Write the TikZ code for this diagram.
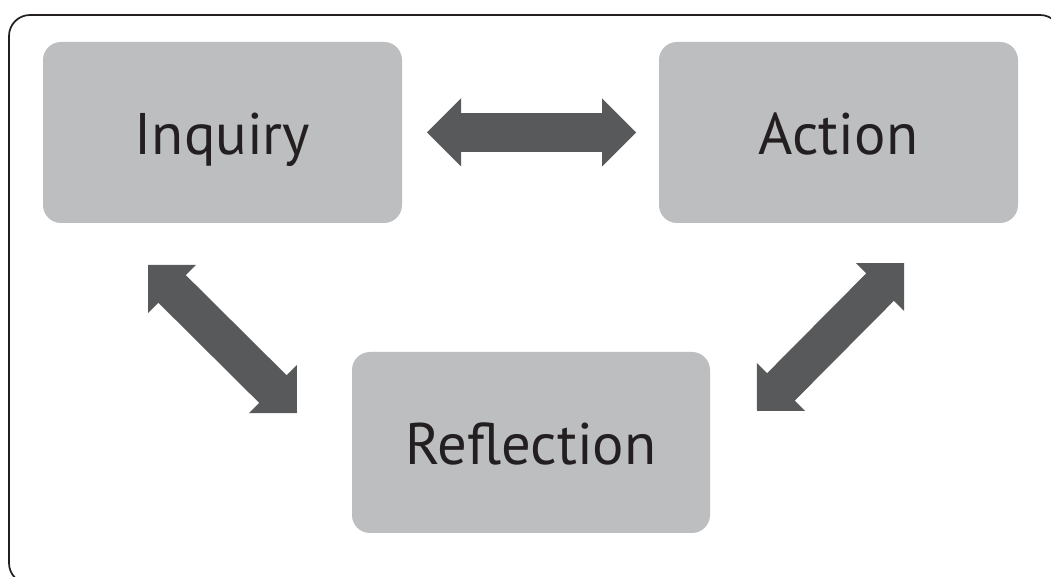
\documentclass[tikz,border=0pt]{standalone}
\usepackage{fontspec}
\setmainfont{PT Sans}
\usetikzlibrary{calc}
\definecolor{boxgray}{HTML}{BCBEC0}
\definecolor{arrowgray}{HTML}{58595B}
\definecolor{ink}{HTML}{231F20}
% fat double arrow between two named coordinates
\newcommand\fatarrow[2]{%
  \fill[arrowgray] (#1)
    -- ($(#1)!25.5pt!(#2)!25.5pt!90:(#2)$)
    -- ($(#1)!25.5pt!(#2)!14.6pt!90:(#2)$)
    -- ($(#2)!25.5pt!(#1)!14.6pt!-90:(#1)$)
    -- ($(#2)!25.5pt!(#1)!25.5pt!-90:(#1)$)
    -- (#2)
    -- ($(#2)!25.5pt!(#1)!25.5pt!90:(#1)$)
    -- ($(#2)!25.5pt!(#1)!14.6pt!90:(#1)$)
    -- ($(#1)!25.5pt!(#2)!14.6pt!-90:(#2)$)
    -- ($(#1)!25.5pt!(#2)!25.5pt!-90:(#2)$)
    -- cycle;}
\tikzset{
  box/.style={fill=boxgray, draw=none, rounded corners=13.5pt,
    minimum height=135.75pt, inner sep=0pt, text=ink,
    font=\fontsize{44}{50}\selectfont, text height=33.75pt, text depth=0pt},
  frame/.style={draw=ink, line width=1.3pt, rounded corners=15.75pt}
}
\begin{document}
\begin{tikzpicture}[x=0.75pt, y=-0.75pt]
  \useasboundingbox (0,0) rectangle (1051,577);
  \clip (0,0) rectangle (1051,577);
  \fill[white] (0,0) rectangle (1051,577);
  \draw[frame] (9,15) rectangle (1061,584);
  \node[box, minimum width=269.25pt] (inq) at (222.5,132.5) {Inquiry};
  \node[box, minimum width=269.25pt] (act) at (838.5,132.5) {Action};
  \node[box, minimum width=268.5pt] (ref) at (531,442.5) {Reflection};
  \coordinate (h1) at (427,132.5);
  \coordinate (h2) at (636,132.5);
  \coordinate (l1) at (148,265);
  \coordinate (l2) at (297,413);
  \coordinate (r1) at (757,411);
  \coordinate (r2) at (904,263);
  \fatarrow{h1}{h2}
  \fatarrow{l1}{l2}
  \fatarrow{r1}{r2}
\end{tikzpicture}
\end{document}
